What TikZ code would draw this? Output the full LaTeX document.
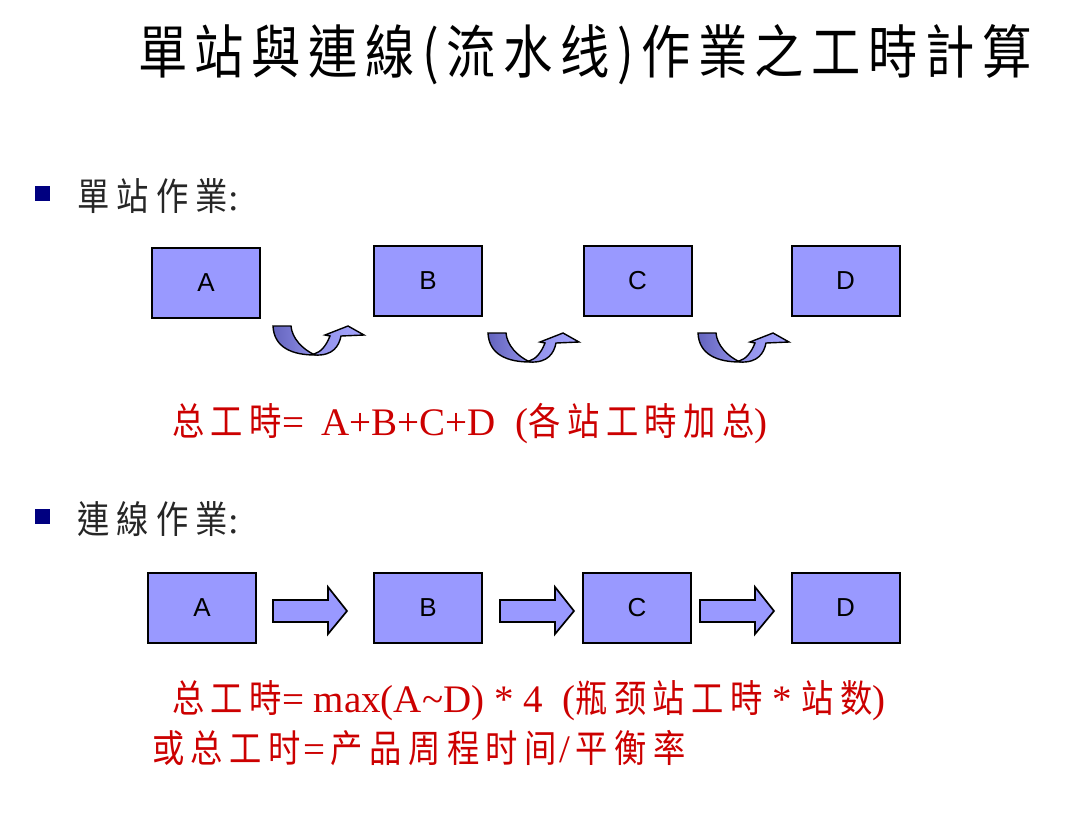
\documentclass[tikz,border=0pt]{standalone}
\usepackage{fontspec}
\setmainfont{Liberation Serif}
\setsansfont{Liberation Sans}
\newfontfamily\cjktitle[FakeStretch=0.85,LetterSpace=13]{Noto Sans CJK TC}
\newfontfamily\cjkbul[FakeStretch=0.85,LetterSpace=19]{Noto Sans CJK TC}
\newfontfamily\cjkred[FakeStretch=0.85,LetterSpace=17]{Noto Sans CJK SC}
\usetikzlibrary{calc}
\definecolor{boxfill}{RGB}{153,153,255}
\definecolor{navy}{RGB}{0,0,128}
\definecolor{redtxt}{RGB}{204,0,0}
\definecolor{armdark}{RGB}{100,100,190}
\definecolor{armmid}{RGB}{145,145,232}
\definecolor{armlight}{RGB}{165,165,255}
\newcommand{\cR}[1]{{\fontsize{38}{40}\cjkred #1}}
\newcommand{\lR}[1]{{\fontsize{39}{40}\rmfamily #1}}
\tikzset{
  box/.style={draw=black, line width=2pt, fill=boxfill, minimum width=108pt, minimum height=70pt,
    inner sep=0pt, font=\sffamily\fontsize{26}{28}\selectfont},
  bullet/.style={fill=navy},
  bultext/.style={anchor=base west, inner sep=0pt, font=\fontsize{38}{40}\cjkbul, text=black!85},
  redline/.style={anchor=base west, inner sep=0pt, text=redtxt},
  arrowshape/.style={draw=black, line width=1.7pt, fill=boxfill, line join=miter},
  blockarr/.pic={
    \draw[arrowshape] (0,-11) -- (55,-11) -- (55,-24) -- (74,0) -- (55,23) -- (55,11) -- (0,11) -- cycle;
  },
  uturn/.pic={
    \draw[line width=1.4pt, left color=armdark, right color=armmid]
      (0,0) .. controls (1,22) and (20,29) .. (42,29)
      .. controls (29,23) and (19,12) .. (18,0) -- cycle;
    \draw[line width=1.4pt, left color=armmid, right color=armlight, line join=miter]
      (42,29) .. controls (60,30) and (66,20) .. (68,10)
      -- (91,9) -- (75,0) -- (52,9) -- (57,10)
      .. controls (53,20) and (48,26) .. (41,28) -- cycle;
  }
}
\begin{document}
\begin{tikzpicture}[x=1pt,y=-1pt]
\useasboundingbox[fill=white] (0,0) rectangle (1080,815);
% title
\node[anchor=base west, inner sep=0pt, font=\fontsize{58}{60}\cjktitle] (title) at (138,73) {單站與連線(流水线)作業之工時計算};
% section 1
\fill[bullet] (35,186) rectangle (50,201);
\node[bultext] (s1) at (77,210) {單站作業{\rmfamily:}};
\node[box] (a1) at (206,283) {A};
\node[box] (b1) at (428,281) {B};
\node[box] (c1) at (637.5,281) {C};
\node[box] (d1) at (845.5,281) {D};
\pic at (273,326) {uturn};
\pic at (488,333) {uturn};
\pic at (698,333) {uturn};
\node[redline] (f1) at (172,435) {\cR{总工時}\lR{=\hspace{8pt} A+B+C+D\ \ (}\cR{各站工時加总}\lR{)}};
% section 2
\fill[bullet] (35,509) rectangle (50,524);
\node[bultext] (s2) at (77,533) {連線作業{\rmfamily:}};
\node[box] (a2) at (202,608) {A};
\node[box] (b2) at (428,608) {B};
\node[box] (c2) at (637,608) {C};
\node[box] (d2) at (845.5,608) {D};
\pic at (273,611) {blockarr};
\pic at (500,611) {blockarr};
\pic at (700,611) {blockarr};
\node[redline] (f2) at (172,712) {\cR{总工時}\lR{= max(A\textasciitilde D) * 4\ \ (}\cR{瓶颈站工時}\lR{ * }\cR{站数}\lR{)}};
\node[redline] (f3) at (152,762) {\cR{或总工时}\lR{\hspace{3pt}=\hspace{5pt}}\cR{产品周程时间}\lR{\hspace{3pt}/\hspace{5pt}}\cR{平衡率}};
\end{tikzpicture}
\end{document}
